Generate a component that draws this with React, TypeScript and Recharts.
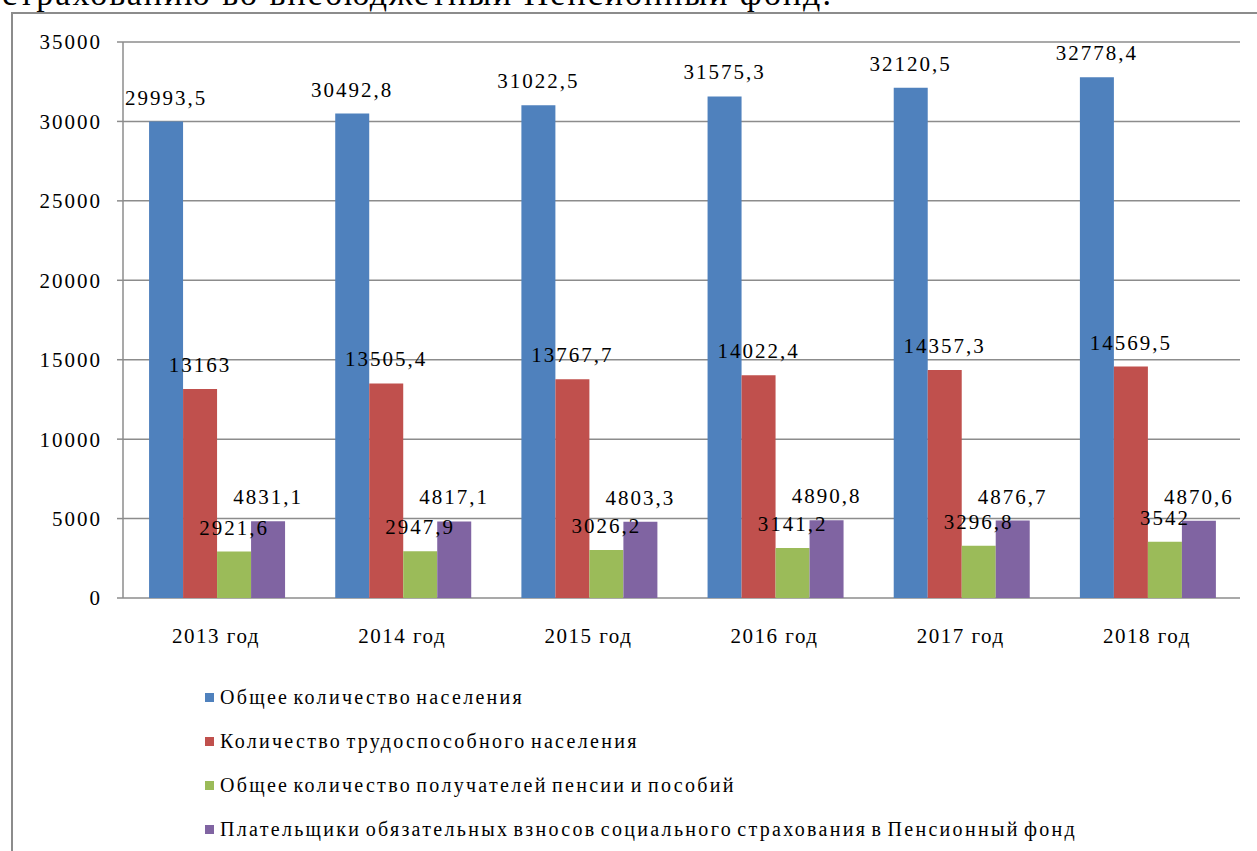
import { BarChart, Bar, XAxis, YAxis, CartesianGrid, Legend, LabelList } from 'recharts';

const years = ['2013 год', '2014 год', '2015 год', '2016 год', '2017 год', '2018 год'];
const totalPopulation = [29993.5, 30492.8, 31022.5, 31575.3, 32120.5, 32778.4];
const workingAge = [13163, 13505.4, 13767.7, 14022.4, 14357.3, 14569.5];
const pensionRecipients = [2921.6, 2947.9, 3026.2, 3141.2, 3296.8, 3542];
const contributors = [4831.1, 4817.1, 4803.3, 4890.8, 4876.7, 4870.6];
const yTicks = [0, 5000, 10000, 15000, 20000, 25000, 30000, 35000];

const SERIES = [
    { key: 'total', name: 'Общее количество населения', color: '#4F81BD' },
    { key: 'working', name: 'Количество трудоспособного населения', color: '#C0504D' },
    { key: 'pension', name: 'Общее количество получателей пенсии и пособий', color: '#9BBB59' },
    { key: 'payers', name: 'Плательщики обязательных взносов социального страхования в Пенсионный фонд', color: '#8064A2' },
];

const data = years.map((year, i) => ({
    year,
    total: totalPopulation[i],
    working: workingAge[i],
    pension: pensionRecipients[i],
    payers: contributors[i],
}));

// boundaries between categories, where Excel puts its tick marks
const boundaryTicks = [...years.map((_, i) => i - 0.5), years.length - 0.5];

const FONT = '"Liberation Serif", "Times New Roman", serif';
const GREY = '#8c8c8c';

const fmt = (v: any) => String(v).replace('.', ',');

// legend keeps series order (recharts 3 sorts payload by name by default)
function LegendList() {
    return (
        <ul style={{ listStyle: 'none', margin: 0, padding: 0, fontFamily: FONT }}>
            {SERIES.map(s => (
                <li key={s.key} style={{ height: 44, lineHeight: '44px', display: 'flex', alignItems: 'center', whiteSpace: 'nowrap' }}>
                    <span style={{ display: 'inline-block', width: 9, height: 9, background: s.color, marginRight: 6 }} />
                    <span style={{ fontSize: 20, color: '#000', letterSpacing: 2.3, wordSpacing: -3 }}>{s.name}</span>
                </li>
            ))}
        </ul>
    );
}

export default function App() {
    return (
        <div style={{ position: 'absolute', top: 0, left: 0, width: 1257, height: 851, overflow: 'hidden', background: '#fff' }}>
            <div style={{ position: 'absolute', top: -23, left: 2, fontFamily: FONT, fontSize: 34, lineHeight: '34px', letterSpacing: 2, whiteSpace: 'nowrap', color: '#000' }}>
                страхованию во внебюджетный Пенсионный фонд.
            </div>
            <div style={{ position: 'absolute', top: 12, left: 11, width: 1400, height: 1000, border: `2px solid ${GREY}` }} />
            <div style={{ position: 'absolute', top: 0, left: 0 }}>
                <BarChart
                    width={1257}
                    height={851}
                    data={data}
                    margin={{ top: 42, right: 17, left: 0, bottom: 193 }}
                    barCategoryGap="14%"
                    barGap={0}
                >
                    <CartesianGrid vertical={false} stroke={GREY} strokeWidth={1.5} xAxisId="cat" />
                    <XAxis
                        xAxisId="grid"
                        type="number"
                        domain={[-0.5, years.length - 0.5]}
                        allowDataOverflow
                        ticks={boundaryTicks}
                        tick={false}
                        tickSize={7}
                        height={0}
                        axisLine={{ stroke: GREY, strokeWidth: 1.5 }}
                        tickLine={{ stroke: GREY, strokeWidth: 1.5 }}
                    />
                    <XAxis
                        xAxisId="cat"
                        dataKey="year"
                        height={60}
                        axisLine={false}
                        tickLine={false}
                        tickSize={6}
                        tickMargin={24}
                        tick={{ fontFamily: FONT, fontSize: 21, fill: '#000', letterSpacing: 1.5 }}
                    />
                    <YAxis
                        width={123}
                        domain={[0, 35000]}
                        ticks={yTicks}
                        interval={0}
                        tickSize={6}
                        tickMargin={15}
                        axisLine={{ stroke: GREY, strokeWidth: 1.5 }}
                        tickLine={{ stroke: GREY, strokeWidth: 1.5 }}
                        tick={{ fontFamily: FONT, fontSize: 21, fill: '#000', letterSpacing: 2 }}
                    />
                    {SERIES.map(s => (
                        <Bar key={s.key} xAxisId="cat" dataKey={s.key} name={s.name} fill={s.color} isAnimationActive={false}>
                            <LabelList
                                dataKey={s.key}
                                position="top"
                                offset={17}
                                formatter={fmt}
                                style={{ fontFamily: FONT, fontSize: 21, fill: '#000', letterSpacing: 2 }}
                            />
                        </Bar>
                    ))}
                    <Legend
                        layout="vertical"
                        verticalAlign="middle"
                        align="center"
                        content={LegendList}
                        wrapperStyle={{ top: 675, left: 205, width: 'auto' }}
                    />
                </BarChart>
            </div>
        </div>
    );
}
